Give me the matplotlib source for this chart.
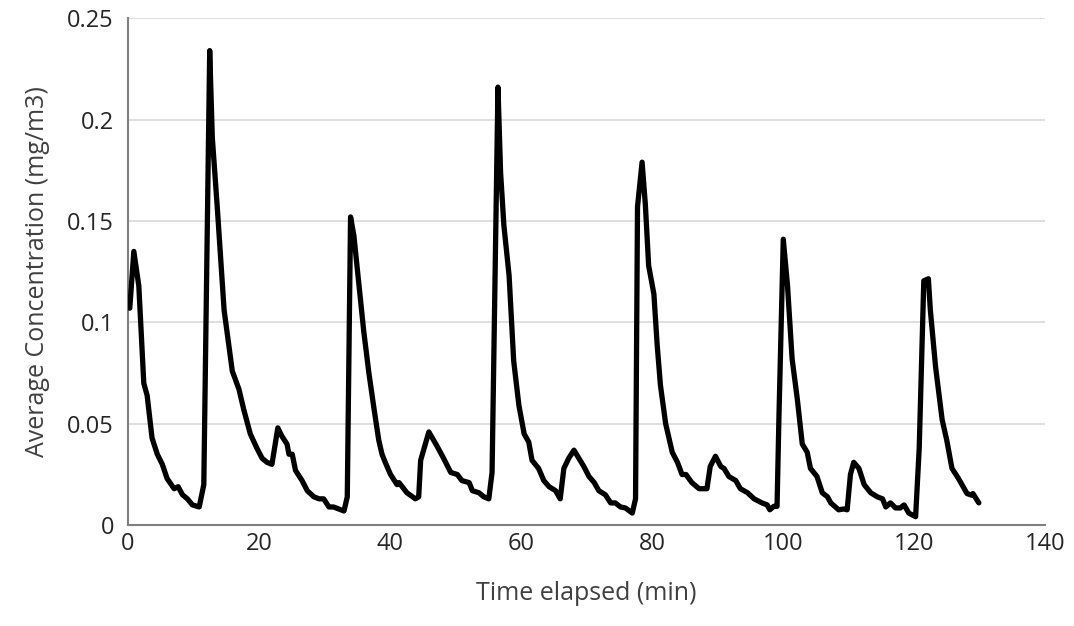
import matplotlib.pyplot as plt

# Time elapsed (min) and average concentration (mg/m3)
time_min = [0.3, 0.92, 1.68, 2.44, 2.95, 3.7, 4.5, 5.27, 6.0, 7.07, 7.68, 8.35, 9.1, 9.86, 10.9,
            11.6, 12.5, 12.9, 13.65, 14.7, 15.2, 15.95, 16.97, 17.7, 18.7, 19.7, 20.5, 21.25, 22.0,
            22.9, 23.5, 24.3, 24.6, 25.1, 25.6, 26.6, 27.4, 28.4, 29.2, 29.9, 30.7, 31.4, 32.2, 33.0,
            33.5, 34.0, 34.5, 35.3, 36.0, 36.8, 37.6, 38.3, 38.8, 39.3, 40.1, 41.1, 41.4, 42.6, 43.9,
            44.4, 44.7, 45.95, 47.2, 48.2, 49.3, 50.3, 51.0, 52.1, 52.6, 53.6, 54.35, 55.1, 55.6,
            56.5, 56.9, 57.4, 58.2, 58.9, 59.7, 60.5, 61.2, 61.7, 62.7, 63.5, 64.3, 65.3, 66.0,
            66.56, 67.3, 68.1, 68.85, 69.6, 70.4, 71.2, 71.9, 72.9, 73.7, 74.4, 75.2, 75.96, 77.0,
            77.5, 77.8, 78.5, 79.0, 79.5, 80.3, 80.8, 81.3, 82.1, 83.1, 83.9, 84.6, 85.2, 86.1,
            87.2, 88.4, 88.9, 89.7, 90.5, 91.0, 91.75, 92.8, 93.5, 94.6, 95.6, 96.8, 97.6, 98.0,
            98.6, 99.1, 99.4, 100.05, 100.7, 101.4, 102.2, 102.95, 103.7, 104.2, 105.2, 106.0,
            106.8, 107.3, 108.5, 109.3, 109.8, 110.3, 110.8, 111.6, 112.4, 113.4, 114.4, 115.2,
            115.7, 116.4, 117.2, 117.9, 118.5, 119.2, 120.25, 120.8, 121.5, 122.2, 122.5, 123.3,
            124.3, 125.0, 125.8, 126.8, 128.1, 128.8, 129.0, 129.9]
concentration = [0.107, 0.135, 0.118, 0.070, 0.064, 0.043, 0.035, 0.030, 0.023, 0.018, 0.019, 0.015,
                 0.013, 0.010, 0.009, 0.020, 0.234, 0.191, 0.157, 0.106, 0.094, 0.076, 0.067, 0.057,
                 0.045, 0.038, 0.033, 0.031, 0.030, 0.048, 0.044, 0.040, 0.035, 0.035, 0.027, 0.022,
                 0.017, 0.014, 0.013, 0.013, 0.009, 0.009, 0.008, 0.007, 0.014, 0.152, 0.143, 0.118,
                 0.096, 0.075, 0.057, 0.042, 0.035, 0.031, 0.025, 0.020, 0.021, 0.016, 0.013, 0.014,
                 0.032, 0.046, 0.039, 0.033, 0.026, 0.025, 0.022, 0.021, 0.017, 0.016, 0.014, 0.013,
                 0.026, 0.216, 0.174, 0.148, 0.123, 0.081, 0.059, 0.045, 0.041, 0.032, 0.028, 0.022,
                 0.019, 0.017, 0.013, 0.028, 0.033, 0.037, 0.033, 0.029, 0.024, 0.021, 0.017, 0.015,
                 0.011, 0.011, 0.009, 0.0085, 0.006, 0.013, 0.157, 0.179, 0.158, 0.128, 0.114, 0.089,
                 0.069, 0.050, 0.036, 0.031, 0.025, 0.025, 0.021, 0.018, 0.018, 0.029, 0.034, 0.029,
                 0.028, 0.024, 0.022, 0.018, 0.016, 0.013, 0.011, 0.010, 0.0076, 0.0093, 0.0093,
                 0.055, 0.141, 0.118, 0.082, 0.062, 0.040, 0.036, 0.028, 0.024, 0.016, 0.014, 0.011,
                 0.0076, 0.008, 0.0076, 0.025, 0.031, 0.028, 0.020, 0.016, 0.014, 0.013, 0.009, 0.011,
                 0.0085, 0.0085, 0.010, 0.006, 0.0042, 0.038, 0.1205, 0.1215, 0.106, 0.078, 0.052,
                 0.042, 0.028, 0.023, 0.0156, 0.0148, 0.0156, 0.011]

x_ticks = [0, 20, 40, 60, 80, 100, 120, 140]
y_ticks = [0, 0.05, 0.1, 0.15, 0.2, 0.25]
y_tick_labels = ['0', '0.05', '0.1', '0.15', '0.2', '0.25']

plt.rcParams['font.family'] = ['Open Sans', 'DejaVu Sans']

fig = plt.figure(figsize=(10.74, 6.26), dpi=100)
ax = fig.add_axes([0.119, 0.161, 0.854, 0.81])

ax.plot(time_min, concentration, color='black', linewidth=3.8, solid_joinstyle='round',
        solid_capstyle='round', zorder=3)

ax.set_xlim(0, 140)
ax.set_ylim(0, 0.25)
ax.set_xticks(x_ticks)
ax.set_yticks(y_ticks)
ax.set_yticklabels(y_tick_labels)
ax.tick_params(axis='y', length=0, labelsize=17, colors='#262626', pad=10)
ax.tick_params(axis='x', length=0, labelsize=17, colors='#262626', pad=5)

ax.grid(axis='y', color='#d9d9d9', linewidth=1.2)
ax.set_axisbelow(True)
for side in ['top', 'right']:
    ax.spines[side].set_visible(False)
for side in ['left', 'bottom']:
    ax.spines[side].set_color('#7f7f7f')
    ax.spines[side].set_linewidth(1.5)

ax.set_xlabel('Time elapsed (min)', fontsize=18, color='#404040', labelpad=18)
ax.set_ylabel('Average Concentration (mg/m3)', fontsize=18, color='#404040', labelpad=12)

fig.savefig('out.png', dpi=100)
